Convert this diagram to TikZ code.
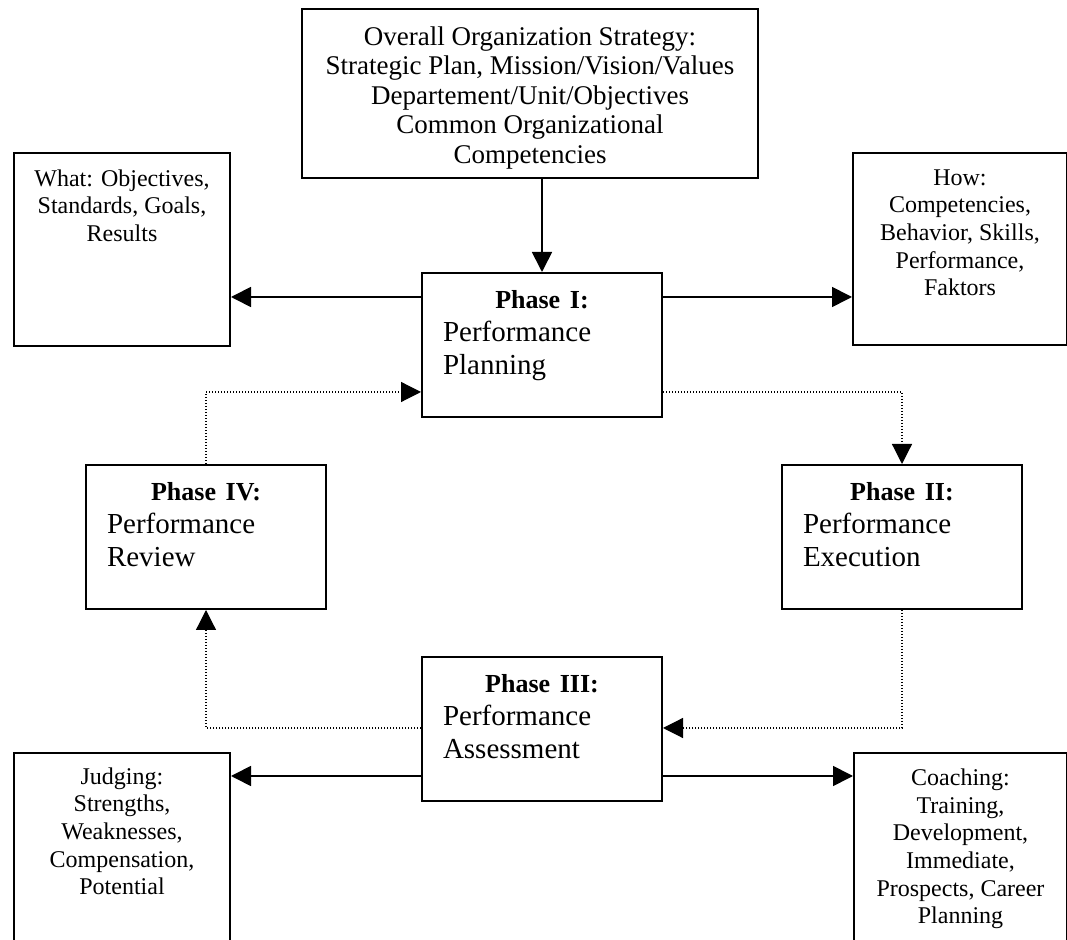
\documentclass[tikz,border=0pt]{standalone}
\usepackage{fontspec}
\setmainfont{Liberation Serif}
\usetikzlibrary{arrows.meta}
\tikzset{
  box/.style={draw, line width=1pt, anchor=north west, inner sep=0pt},
  phasebox/.style={box, minimum width=120pt, minimum height=72pt},
  note/.style={anchor=north, align=center, inner sep=0pt, font=\fontsize{12}{13.8}\selectfont},
  phasetext/.style={anchor=north, align=left, text width=99pt, inner sep=0pt, font=\fontsize{14.5}{16.5}\selectfont},
  arr/.style={line width=0.85pt, -{Triangle[length=10pt,width=10pt]}},
  dots/.style={line width=0.6pt, dash pattern=on 0.5pt off 1pt},
}
\newcommand{\phasehead}[1]{\makebox[\linewidth]{\fontsize{13}{15}\selectfont\bfseries #1}}
\begin{document}
\begin{tikzpicture}[x=0.5pt,y=-0.5pt]
 \useasboundingbox (0,0) rectangle (1067,940);
 \clip (0,0) rectangle (1067,940);
 % boxes
 \node[box, minimum width=228pt, minimum height=84.5pt] (strategy) at (301,8)   {};
 \node[box, minimum width=108pt, minimum height=96.5pt] (what)     at (13,152)  {};
 \node[box, minimum width=107pt, minimum height=96pt]   (how)      at (852,152) {};
 \node[phasebox] (p1) at (421,272) {};
 \node[phasebox] (p4) at (85,464)  {};
 \node[phasebox] (p2) at (781,464) {};
 \node[phasebox] (p3) at (421,656) {};
 \node[box, minimum width=108pt, minimum height=100pt]  (judging)  at (13,752)  {};
 \node[box, minimum width=106.5pt, minimum height=100pt] (coaching) at (853,752) {};
 % texts
 \node[note, font=\fontsize{13.5}{14.8}\selectfont] (strategyt) at ([yshift=-9pt]strategy.north)
   {Overall Organization Strategy:\\Strategic Plan, Mission/Vision/Values\\Departement/Unit/Objectives\\Common Organizational\\Competencies};
 \node[note] (whatt) at ([yshift=-8.6pt]what.north) {What: Objectives,\\Standards, Goals,\\Results};
 \node[note] (howt)  at ([yshift=-8.6pt]how.north)  {How:\\Competencies,\\Behavior, Skills,\\Performance,\\Faktors};
 \node[note] (judgingt)  at ([yshift=-7.6pt]judging.north)  {Judging:\\Strengths,\\Weaknesses,\\Compensation,\\Potential};
 \node[note] (coachingt) at ([yshift=-8.3pt]coaching.north) {Coaching:\\Training,\\Development,\\Immediate,\\Prospects, Career\\Planning};
 \node[phasetext] (p1t) at ([yshift=-9pt]p1.north) {\phasehead{Phase I:}\\Performance\\Planning};
 \node[phasetext] (p2t) at ([yshift=-9pt]p2.north) {\phasehead{Phase II:}\\Performance\\Execution};
 \node[phasetext] (p3t) at ([yshift=-9pt]p3.north) {\phasehead{Phase III:}\\Performance\\Assessment};
 \node[phasetext] (p4t) at ([yshift=-9pt]p4.north) {\phasehead{Phase IV:}\\Performance\\Review};
 % rows of the connectors
 \coordinate (row1)  at (0,297);
 \coordinate (row3)  at (0,776);
 \coordinate (loop1) at (0,392);
 \coordinate (loop3) at (0,728);
 \draw[arr] (strategy.south -| p1.north) -- (p1.north);
 \draw[arr] (p1.west |- row1) -- (what.east |- row1);
 \draw[arr] (p1.east |- row1) -- (how.west |- row1);
 \draw[arr] (p3.west |- row3) -- (judging.east |- row3);
 \draw[arr] (p3.east |- row3) -- (coaching.west |- row3);
 \draw[arr,dots] (p4.north) |- (p1.west |- loop1);
 \draw[arr,dots] (p1.east |- loop1) -| (p2.north);
 \draw[arr,dots] (p2.south) |- (p3.east |- loop3);
 \draw[arr,dots] (p3.west |- loop3) -| (p4.south);
\end{tikzpicture}
\end{document}
